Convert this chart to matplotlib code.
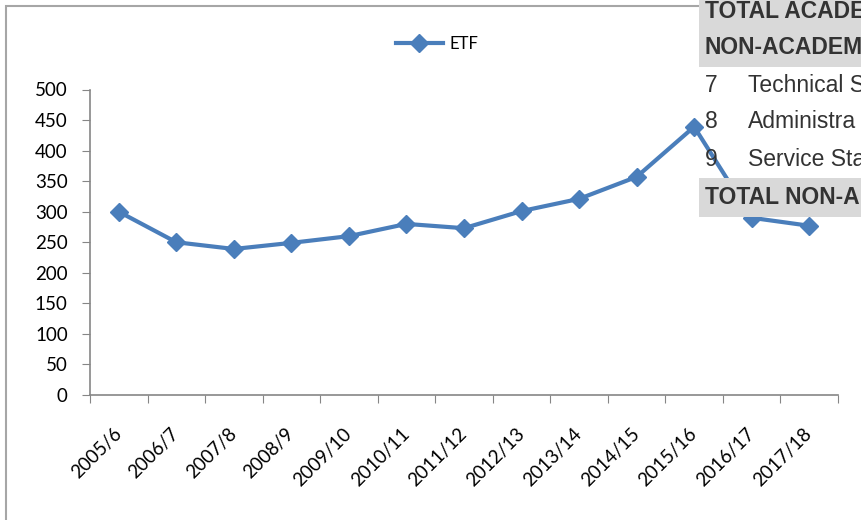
import numpy as np
import matplotlib
matplotlib.use("Agg")
import matplotlib.pyplot as plt
from matplotlib.patches import Rectangle

# ETF per year
years = ["2005/6", "2006/7", "2007/8", "2008/9", "2009/10", "2010/11", "2011/12",
         "2012/13", "2013/14", "2014/15", "2015/16", "2016/17", "2017/18"]
etf = [300, 250, 239, 249, 260, 280, 273, 301, 321, 357, 439, 290, 277]
yticks = list(range(0, 501, 50))

# bits of the document table that sit on top of the chart
table_rows = [("TOTAL ACADE", None, True), ("NON-ACADEM", None, True),
              ("7", "Technical S", False), ("8", "Administra", False),
              ("9", "Service Sta", False), ("TOTAL NON-A", None, True)]

W, H = 861, 520
fig = plt.figure(figsize=(W / 100, H / 100), dpi=100)
plt.rcParams['font.family'] = ['Lato', 'DejaVu Sans']

def fx(px):
    return px / W

def fy(py):
    return 1 - py / H

# chart frame (runs off the canvas at right and bottom)
fig.add_artist(Rectangle((fx(6), fy(600)), fx(1000), fy(6) - fy(600),
                         transform=fig.transFigure, fill=False,
                         edgecolor="#a6a6a6", lw=1.5, zorder=0.5))

ax = fig.add_axes([fx(90), fy(395), fx(838 - 90), fy(89.5) - fy(395)])
x = np.arange(len(years))
ax.plot(x, etf, color="#4a7ebb", lw=3, marker="D", ms=9, label="ETF")

ax.set_xlim(-0.5, len(years) - 0.5)
ax.set_ylim(0, 500)
ax.set_yticks(yticks)
ax.set_xticks(np.arange(-0.5, len(years)), [""] * (len(years) + 1))
ax.set_xticks(x, years, minor=True)
ax.tick_params(axis="x", which="minor", length=0, pad=26, labelsize=13.5,
               labelrotation=45)
for lab in ax.get_xticklabels(minor=True):
    lab.set_ha("right")
    lab.set_va("center")
    lab.set_rotation_mode("anchor")
ax.tick_params(axis="x", which="major", length=6, direction="out", color="#868686")
ax.tick_params(axis="y", length=6, direction="out", color="#868686", pad=10,
               labelsize=13.5)
for s in ["top", "right"]:
    ax.spines[s].set_visible(False)
for s in ["left", "bottom"]:
    ax.spines[s].set_color("#868686")
    ax.spines[s].set_linewidth(1.2)

fig.legend(loc="center", bbox_to_anchor=(fx(437), fy(44)), frameon=False,
           fontsize=12, handlelength=2.8, handletextpad=0.4)

# grey header boxes of the table
fig.add_artist(Rectangle((fx(699), fy(67)), fx(200), fy(0) - fy(67) + 0.01,
                         transform=fig.transFigure, color="#d9d9d9", lw=0, zorder=2))
fig.add_artist(Rectangle((fx(699), fy(217)), fx(200), fy(178) - fy(217),
                         transform=fig.transFigure, color="#d9d9d9", lw=0, zorder=2))
row_y = [11, 47, 86, 122, 160, 197]
for (a, b, bold), yy in zip(table_rows, row_y):
    fig.text(fx(705), fy(yy), a, family="Liberation Sans", fontsize=16.5,
             weight="bold" if bold else "normal", color="#333333",
             va="center", ha="left", zorder=3)
    if b:
        fig.text(fx(748), fy(yy), b, family="Liberation Sans", fontsize=16.5,
                 color="#333333", va="center", ha="left", zorder=3)

fig.savefig("out.png", dpi=100)
